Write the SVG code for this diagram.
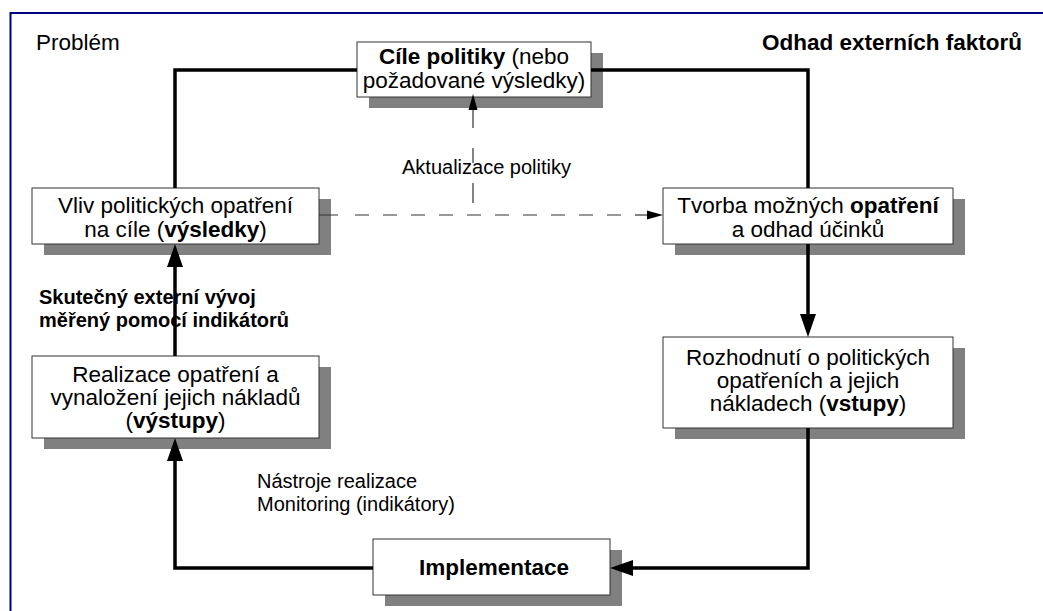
<svg xmlns="http://www.w3.org/2000/svg" width="1043" height="611" viewBox="0 0 1043 611">
<style>
text{font-family:"Liberation Sans",Arial,sans-serif;fill:#000}
.t{font-size:22.5px}
.c{text-anchor:middle}
.b{font-weight:bold}
.lbl{font-size:20px}
.shadow{fill:#808080}
.box{fill:#fff;stroke:#333;stroke-width:1}
.thick{fill:none;stroke:#000;stroke-width:3.5}
.dash{fill:none;stroke:#333;stroke-width:1.2}
</style>
<defs>
<marker id="ah" markerUnits="userSpaceOnUse" viewBox="0 -8 23 16" refX="0" refY="0" markerWidth="23" markerHeight="16" orient="auto" overflow="visible">
<path d="M0,-8 L23,0 L0,8 z" fill="#000"/>
</marker>
<marker id="ahs" markerUnits="userSpaceOnUse" viewBox="0 -5 16 10" refX="0" refY="0" markerWidth="16" markerHeight="10" orient="auto" overflow="visible">
<path d="M0,-4.5 L16,0 L0,4.5 z" fill="#000"/>
</marker>
</defs>
<rect width="1043" height="611" fill="#fff"/>
<path d="M10.5,611 V13 H1043" fill="none" stroke="#000080" stroke-width="2"/>
<text class="t" x="36" y="50">Problém</text>
<text class="t b" x="1022" y="50" text-anchor="end" font-size="22">Odhad externích faktorů</text>

<g id="node-cile">
<rect class="shadow" x="369" y="53" width="234" height="55"/>
<rect class="box" x="357" y="42" width="234" height="55"/>
<text class="t c" x="474" y="64"><tspan class="b">Cíle politiky</tspan> (nebo</text>
<text class="t c" x="474" y="88">požadované výsledky)</text>
</g>
<g id="node-vliv">
<rect class="shadow" x="44" y="199" width="287" height="56"/>
<rect class="box" x="32" y="188" width="287" height="56"/>
<text class="t c" x="175.5" y="213">Vliv politických opatření</text>
<text class="t c" x="175.5" y="237">na cíle (<tspan class="b">výsledky</tspan>)</text>
</g>
<g id="node-tvorba">
<rect class="shadow" x="675" y="199" width="290" height="56"/>
<rect class="box" x="663" y="188" width="290" height="56"/>
<text class="t c" x="808" y="213">Tvorba možných <tspan class="b">opatření</tspan></text>
<text class="t c" x="808" y="237">a odhad účinků</text>
</g>
<g id="node-rozhodnuti">
<rect class="shadow" x="675" y="348" width="290" height="91"/>
<rect class="box" x="663" y="337" width="290" height="91"/>
<text class="t c" x="808" y="365">Rozhodnutí o politických</text>
<text class="t c" x="808" y="388">opatřeních a jejich</text>
<text class="t c" x="808" y="411">nákladech (<tspan class="b">vstupy</tspan>)</text>
</g>
<g id="node-implementace">
<rect class="shadow" x="385" y="550" width="237" height="56"/>
<rect class="box" x="373" y="539" width="237" height="56"/>
<text class="t c b" x="494" y="575" font-size="23">Implementace</text>
</g>
<g id="node-realizace">
<rect class="shadow" x="44" y="367" width="287" height="82"/>
<rect class="box" x="32" y="356" width="287" height="82"/>
<text class="t c" x="175.5" y="382">Realizace opatření a</text>
<text class="t c" x="175.5" y="405">vynaložení jejich nákladů</text>
<text class="t c" x="175.5" y="428">(<tspan class="b">výstupy</tspan>)</text>
</g>

<g id="connectors">
<path class="thick" d="M175,188 V70 H357"/>
<path class="thick" d="M591,70 H808 V188"/>
<path class="thick" d="M808,244 V314" marker-end="url(#ah)"/>
<path class="thick" d="M808,428 V568 H633" marker-end="url(#ah)"/>
<path class="thick" d="M373,568 H175 V461" marker-end="url(#ah)"/>
<path class="thick" d="M175,356 V267" marker-end="url(#ah)"/>
<path class="dash" d="M319,215 H338 M355,215 H369 M383,215 H397 M411,215 H425 M439,215 H453 M467,215 H481 M495,215 H509 M523,215 H537 M551,215 H565 M579,215 H593 M607,215 H621"/>
<path class="dash" d="M635,215 H647" marker-end="url(#ahs)"/>
<path class="dash" d="M473,203 V183 M473,163 V148"/>
<path class="dash" d="M473,128 V110" marker-end="url(#ahs)"/>
</g>

<text class="lbl" x="402" y="174">Aktualizace politiky</text>
<text class="lbl b" x="39" y="304">Skutečný externí vývoj</text>
<text class="lbl b" x="39" y="327">měřený pomocí indikátorů</text>
<text class="lbl" x="257" y="488">Nástroje realizace</text>
<text class="lbl" x="257" y="511">Monitoring (indikátory)</text>
</svg>
